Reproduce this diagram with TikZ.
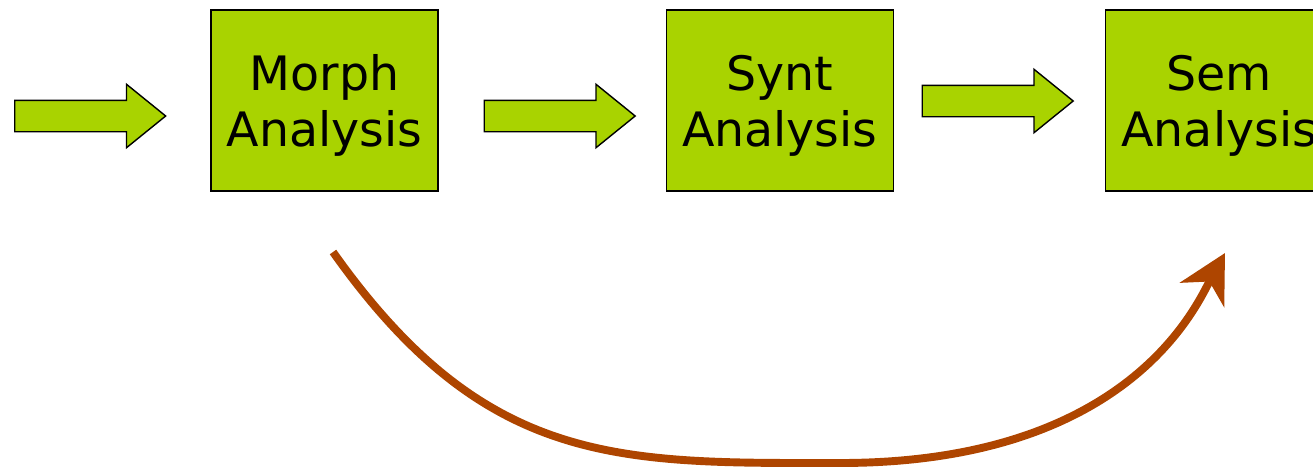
\documentclass[tikz,border=0pt]{standalone}
\usepackage{fontspec}
\setmainfont{DejaVu Sans}
\usepackage{tikz}
\usetikzlibrary{arrows.meta,positioning,shapes.arrows}
\definecolor{leaf}{HTML}{A9D300}
\definecolor{rust}{HTML}{AE4500}

\begin{document}
\begin{tikzpicture}[x=0.02cm,y=-0.02cm,every node/.style={font=\fontsize{27}{32}\selectfont,align=center},stage/.style={draw=black,line width=0.8pt,fill=leaf,minimum width=4.54cm,minimum height=3.62cm,inner sep=0pt,text height=58.5pt,text depth=6.3pt},flow/.style={single arrow,draw=black,line width=0.8pt,fill=leaf,inner xsep=0pt,inner ysep=0.3cm,minimum height=3.02cm,single arrow head extend=0.32cm,single arrow tip angle=78}]
\useasboundingbox (0,0) rectangle (1313,468);
\node[stage] (morph) at (324.5,100.5) {Morph\\Analysis};
\node[stage,right=4.54cm of morph] (synt) {Synt\\Analysis};
\node[stage,right=4.22cm of synt] (sem) {Sem\\Analysis};
\node[flow] (in) at (80.5,116) {};
\node[flow] (ms) at (550,116) {};
\node[flow] (ss) at (988,101) {};
% skip over the syntax stage
\coordinate (skipA) at (333,252);
\coordinate (skipL) at (840,463);
\coordinate (skipB) at (1225,253);
\draw[rust,line width=4.5pt,-{Stealth[length=0.95cm,width=1cm,inset=0.3cm]}] (skipA) .. controls (486,468) and (620,463) .. (skipL) .. controls (1130,463) and (1197,304) .. (skipB);
\end{tikzpicture}
\end{document}
